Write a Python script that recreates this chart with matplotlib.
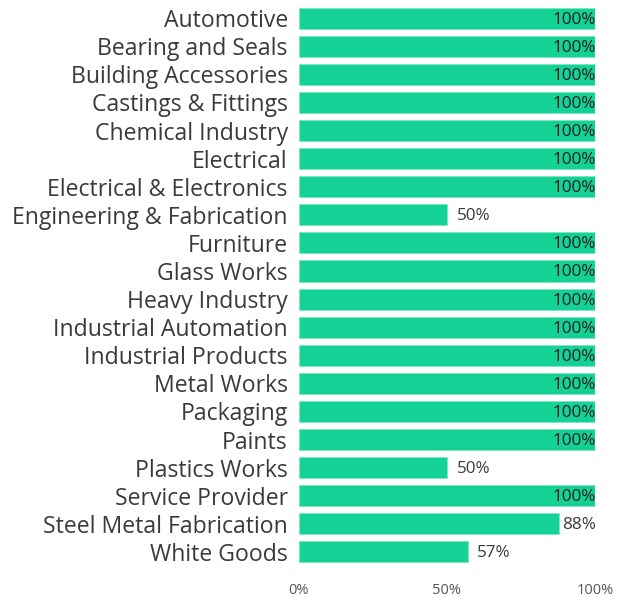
import matplotlib
matplotlib.use("Agg")
import matplotlib.pyplot as plt

categories = [
    "Automotive", "Bearing and Seals", "Building Accessories", "Castings & Fittings",
    "Chemical Industry", "Electrical", "Electrical & Electronics",
    "Engineering & Fabrication", "Furniture", "Glass Works", "Heavy Industry",
    "Industrial Automation", "Industrial Products", "Metal Works", "Packaging",
    "Paints", "Plastics Works", "Service Provider", "Steel Metal Fabrication",
    "White Goods",
]
values = [100, 100, 100, 100, 100, 100, 100, 50, 100, 100, 100, 100, 100, 100,
          100, 100, 50, 100, 88, 57]
x_ticks = [0, 50, 100]
x_tick_labels = ["0%", "50%", "100%"]

bar_color = "#14D196"
text_color = "#3A3A3A"
font = ["Open Sans", "DejaVu Sans"]

fig = plt.figure(figsize=(6.19, 5.97), dpi=100)
ax = fig.add_axes([0.483, 0.052, 0.478, 0.941])

y = list(range(len(categories)))
ax.barh(y, values, height=0.75, color=bar_color, edgecolor="#7FE6C4", linewidth=0.6)

for yi, v in zip(y, values):
    label = f"{v}%"
    if v >= 95:
        # inside the bar, flush with its end
        ax.text(v + 0.4, yi + 0.05, label, ha="right", va="center", fontsize=12.3,
                color="#1E1E1E", family=font)
    elif v > 85:
        # not enough room past the bar: keep label inside the plot width
        ax.text(100.4, yi + 0.05, label, ha="right", va="center", fontsize=12.3,
                color=text_color, family=font)
    else:
        ax.text(v + 3.2, yi + 0.05, label, ha="left", va="center", fontsize=12.3,
                color=text_color, family=font)

ax.set_xlim(0, 100)
ax.set_ylim(len(categories) - 0.5, -0.5)
ax.set_yticks(y)
ax.set_yticklabels(categories, fontsize=16.6, color=text_color, family=font)
ax.set_xticks(x_ticks)
ax.set_xticklabels(x_tick_labels, fontsize=10.5, color="#555555", family=font)
ax.tick_params(axis="y", length=0, pad=8)
ax.tick_params(axis="x", length=0, pad=12)
for s in ax.spines.values():
    s.set_visible(False)

fig.savefig("out.png", dpi=100)
